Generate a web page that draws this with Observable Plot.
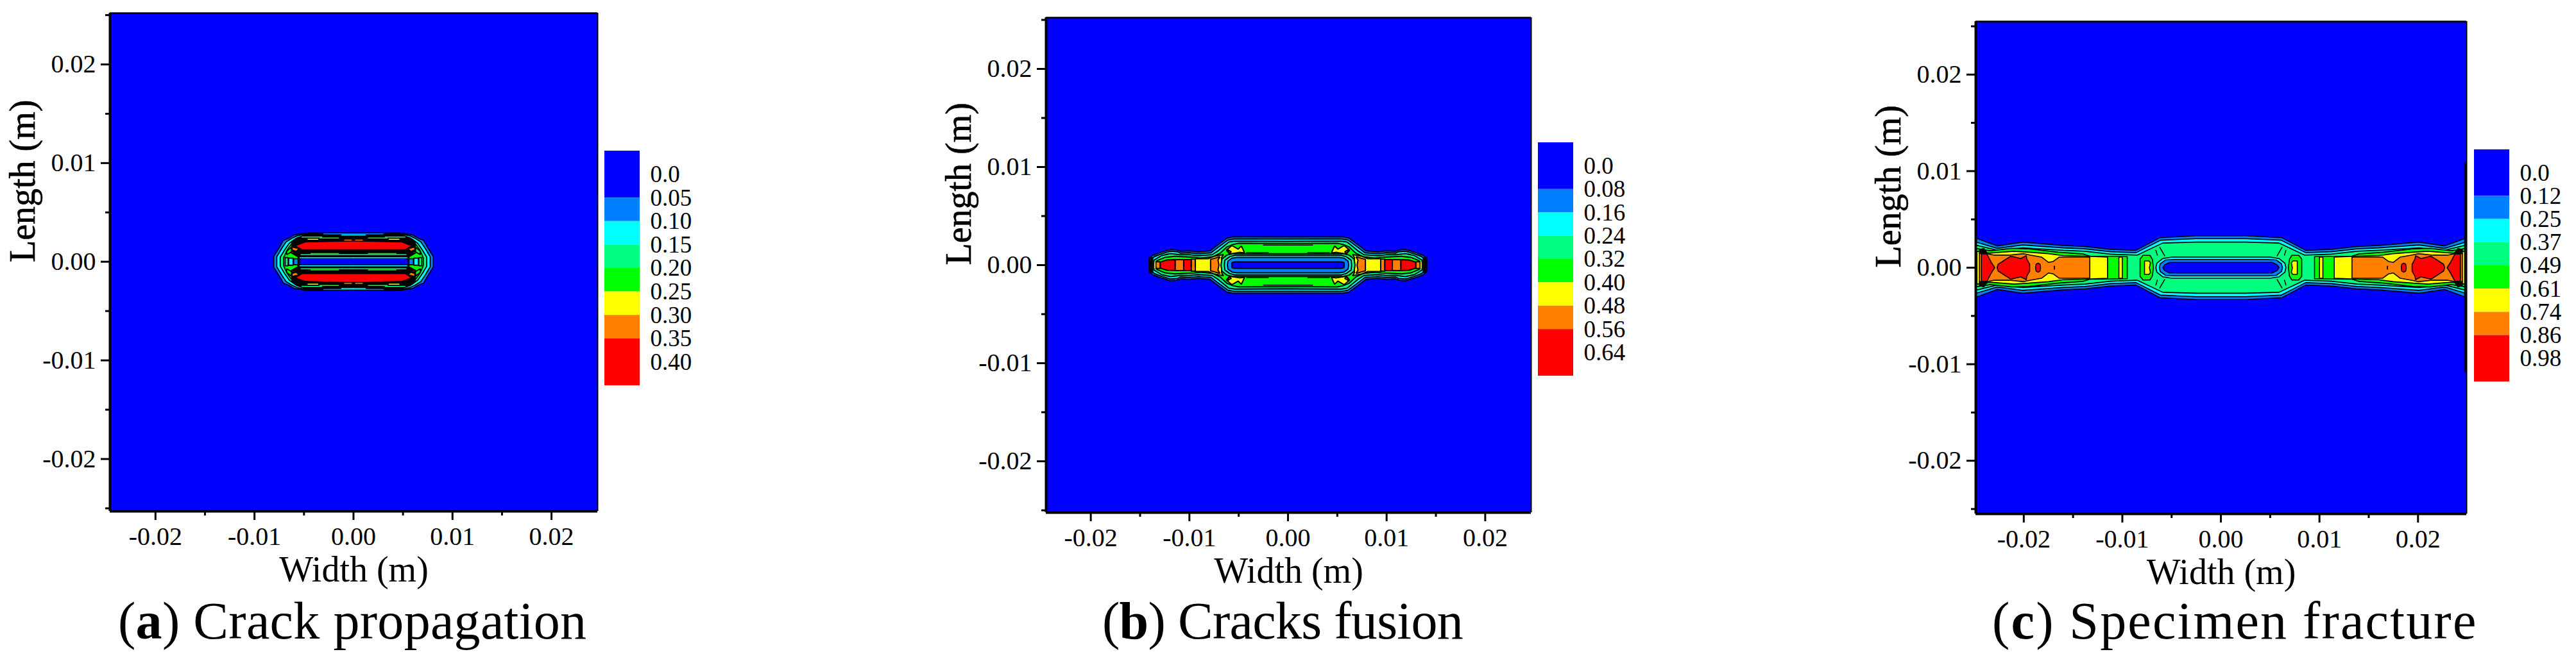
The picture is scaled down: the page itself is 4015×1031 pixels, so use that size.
<!DOCTYPE html>
<html><head><meta charset="utf-8">
<script src="https://cdn.jsdelivr.net/npm/d3@7"></script>
<script src="https://cdn.jsdelivr.net/npm/@observablehq/plot@0.6"></script>
<style>
html,body{margin:0;padding:0;background:#fff;width:4015px;height:1031px;overflow:hidden}
#page{position:relative;width:4015px;height:1031px;font-family:"Liberation Serif",serif;color:#000}
#page svg{position:absolute;overflow:visible;background:transparent}
.cap{position:absolute;top:928px;font-size:82px;line-height:1;white-space:nowrap}
</style></head><body><div id="page"></div>
<script>
// ---------- colour levels and legends ----------
const levelColors = ["#0000ff","#0080ff","#00ffff","#00ff80","#00ff00","#ffff00","#ff8000","#ff0000"];
const [BLU,AZU,CYA,SPR,GRN,YEL,ORA,RED] = levelColors;
const BLK = "#000000";
const legendEdges = [-1,1,2,3,4,5,6,7,9];
const legendA = ["0.0","0.05","0.10","0.15","0.20","0.25","0.30","0.35","0.40"];
const legendB = ["0.0","0.08","0.16","0.24","0.32","0.40","0.48","0.56","0.64"];
const legendC = ["0.0","0.12","0.25","0.37","0.49","0.61","0.74","0.86","0.98"];
const majorTicks = [-0.02,-0.01,0,0.01,0.02];
const minorTicksX = [-0.015,-0.005,0.005,0.015];
const minorTicksY = [-0.025,-0.015,-0.005,0.005,0.015,0.025];

// ---------- contour outlines, millimetres ----------
// kinds: ring = crosses both axes (one quadrant given); bandx = sits on y=0, one half given,
// repeated left and right; band = sits on x=0, repeated above and below; patch = four copies.
const contoursA = [
 ["ring",AZU,[[8.06,0],[8.06,.54],[7.52,1.4],[7.09,2.16],[6.55,2.38],[6.0,2.7],[4.71,2.92],[0,2.92]]],
 ["ring",CYA,[[7.75,0],[7.75,.5],[7.25,1.35],[6.8,2.02],[6.25,2.36],[5.7,2.62],[4.6,2.86],[0,2.86]]],
 ["ring",SPR,[[7.4,0],[7.4,.45],[6.95,1.2],[6.5,1.85],[5.9,2.3],[4.5,2.8],[0,2.8]]],
 ["ring",GRN,[[7.05,0],[7.05,.4],[6.75,1.1],[6.3,1.75],[5.7,2.25],[4.5,2.78],[0,2.78]]],
 ["ring",BLK,[[5.6,0],[5.6,.5],[6.2,.85],[6.25,1.55],[6.2,2.0],[5.7,2.42],[4.7,2.78],[0,2.78]]],
 ["bandx",SPR,[[6.6,0],[6.6,.42],[6.9,.42],[6.9,0]]],
 ["bandx",CYA,[[6.1,0],[6.1,.36],[6.55,.36],[6.55,0]]],
 ["bandx",AZU,[[5.6,0],[5.6,.3],[6.05,.3],[6.05,0]]],
 ["patch",GRN,[[6.25,1.0],[6.3,1.45],[6.75,1.05],[6.75,.72]]],
 ["patch",ORA,[[5.5,1.32],[6.2,1.5],[6.2,1.2],[5.8,1.05]]],
 ["patch",YEL,[[5.9,1.08],[6.3,.98],[6.25,.86],[5.9,.95]]],
 ["band",RED,[[0,2.1],[.7,2.1],[4.9,2.0],[5.9,1.62],[5.2,1.2],[0,1.2]]],
 ["ring",BLU,[[5.5,0],[5.5,.2],[5.3,.33],[0,.33]]]
];
const linesA = [
 [SPR,[[0,.71],[5.3,.71]]],[CYA,[[0,.4],[5.4,.4]]],[GRN,[[1.5,.83],[4.3,.83]]],
 [AZU,[[0,2.82],[3.0,2.82]]],[CYA,[[0,2.72],[1.2,2.72]]],[GRN,[[1.5,2.4],[3.4,2.4]]],
 [YEL,[[3.6,2.28],[4.6,2.28]]],[SPR,[[3.2,2.5],[5.2,2.5]]],[ORA,[[.2,2.2],[.9,2.2]]]
];
const contoursB = [
 ["ring",AZU,[[14.05,0],[14.05,.7],[13.7,1.0],[12.9,1.3],[11.9,1.6],[11.3,1.55],[10.9,1.4],[10.0,1.45],[9.1,1.35],[7.9,1.45],[7.4,1.85],[6.2,2.75],[5.6,2.88],[0,2.88]]],
 ["ring",CYA,[[13.9,0],[13.9,.6],[13.5,.88],[12.8,1.15],[11.9,1.42],[11.2,1.35],[10.9,1.22],[10.0,1.26],[9.1,1.16],[7.8,1.26],[7.3,1.65],[6.1,2.55],[5.5,2.66],[0,2.66]]],
 ["ring",SPR,[[13.6,0],[13.6,.5],[12.8,.98],[11.9,1.18],[11.0,1.06],[10,1.06],[9.1,.96],[7.7,1.06],[7.1,1.45],[6.0,2.35],[5.4,2.45],[0,2.42]]],
 ["ring",GRN,[[13.3,0],[13.3,.45],[12.5,.78],[11.5,.9],[10.5,.85],[9.5,.8],[8.9,.72],[7.6,.85],[6.9,1.2],[6.2,1.85],[5.6,2.1],[5,2.22],[0,2.2]]],
 ["bandx",YEL,[[6.65,0],[6.75,.75],[6.55,1.08],[7.5,.9],[8.1,.65],[9.4,.65],[9.4,0]]],
 ["bandx",ORA,[[7.0,0],[7.1,.5],[6.9,.85],[7.85,.58],[7.85,0]]],
 ["bandx",ORA,[[9.4,0],[9.4,.62],[9.82,.62],[9.82,0]]],
 ["bandx",RED,[[9.82,0],[9.82,.56],[10.58,.56],[10.58,0]]],
 ["bandx",ORA,[[10.58,0],[10.58,.56],[11.45,.56],[11.45,0]]],
 ["bandx",RED,[[11.45,0],[11.45,.55],[12.3,.52],[12.97,.3],[12.97,0]]],
 ["bandx",ORA,[[12.97,0],[12.97,.34],[13.4,.34],[13.4,0]]],
 ["bandx",BLK,[[13.72,0],[13.72,.75],[14.05,.75],[14.05,0]]],
 ["patch",YEL,[[4.4,1.24],[4.73,1.95],[5.05,1.63],[5.7,2.0],[6.25,1.52],[5.92,1.13],[4.94,1.3]]],
 ["patch",ORA,[[5.75,1.35],[6.2,1.62],[5.95,1.2]]],
 ["ring",SPR,[[6.8,0],[6.7,.62],[6.2,1.02],[5.6,1.16],[0,1.16]]],
 ["ring",CYA,[[6.45,0],[6.4,.5],[5.9,.86],[5.4,1.0],[0,1.0]]],
 ["ring",AZU,[[6.15,0],[6.1,.4],[5.7,.7],[5.2,.78],[0,.78]]],
 ["ring",BLU,[[5.7,0],[5.7,.25],[5.4,.33],[0,.33]]]
];
const linesB = [
 [BLK,[[0,2.05],[2.5,2.05]]],[BLK,[[2.0,1.28],[4.2,1.28]]],[YEL,[[13.5,0],[13.5,.3]]]
];
const contoursC = [
 ["ring",AZU,[[25.2,0],[25.2,3.1],[24.7,3.0],[22.7,2.25],[20.1,2.65],[16,2.3],[13.8,2.2],[11.2,1.9],[8.6,1.8],[6.2,3.1],[2.5,3.3],[0,3.3]]],
 ["ring",CYA,[[25.2,0],[25.2,2.7],[24.7,2.6],[22.7,2.0],[20.1,2.35],[16,2.05],[13.8,1.95],[11.2,1.65],[8.6,1.55],[6.1,2.85],[2.5,3.0],[0,3.0]]],
 ["ring",SPR,[[25.2,0],[25.2,2.4],[24.7,2.3],[22.7,1.8],[20.1,2.05],[16,1.8],[13.8,1.7],[11.2,1.4],[8.5,1.3],[5.9,2.55],[2.5,2.65],[0,2.65]]],
 ["bandx",GRN,[[9.5,0],[9.5,1.15],[13.3,1.2],[14,1.42],[16.5,1.6],[19.5,1.95],[21.2,2.0],[23.4,1.75],[25.2,2.05],[25.2,0]]],
 ["bandx",YEL,[[10,0],[10,1.1],[10.35,1.1],[10.35,0]]],
 ["bandx",YEL,[[11.5,0],[11.5,1.1],[14,1.2],[16,1.25],[17.5,1.45],[19.5,1.6],[21,1.7],[23.5,1.5],[24.75,1.7],[24.75,0]]],
 ["bandx",ORA,[[13.3,0],[13.3,1.1],[16.4,1.1],[17.0,.65],[17.5,.55],[18.2,1.1],[19.3,1.3],[20.0,1.45],[21.5,1.3],[23,1.3],[23.7,1.45],[24.5,1.5],[24.5,0]]],
 ["bandx",RED,[[18.3,0],[18.35,.35],[18.55,.47],[18.75,.35],[18.8,0]]],
 ["bandx",RED,[[19.4,0],[19.4,.35],[19.7,.9],[19.75,1.25],[20.3,.95],[21.3,1.2],[22.0,.75],[22.6,.35],[22.7,0]]],
 ["bandx",RED,[[22.95,0],[23.3,.55],[23.75,1.42],[24.3,1.42],[24.3,0]]],
 ["patch",BLK,[[23.7,1.5],[24.05,2.0],[24.5,1.85],[24.5,1.45]]],
 ["bandx",GRN,[[6.85,0],[6.95,.85],[7.2,1.28],[7.9,1.28],[8.2,.9],[8.2,0]]],
 ["bandx",YEL,[[7.25,0],[7.15,.5],[7.3,.7],[7.75,.7],[7.75,0]]],
 ["ring",CYA,[[6.6,0],[6.5,.45],[5.9,.95],[5,1.1],[0,1.1]]],
 ["ring",AZU,[[6.25,0],[6.15,.4],[5.6,.8],[4.7,.85],[0,.85]]],
 ["ring",BLU,[[5.9,0],[5.7,.3],[5.2,.55],[0,.55]]]
];
const linesC = [
 [BLK,[[16.9,-.15],[16.9,.15]]],[BLK,[[5.7,1.22],[6.2,2.1]]],[BLK,[[6.45,1.3],[6.6,1.8]]]
];

// ---------- mirror the outlines (the picture is symmetric about both axes) ----------
const flip = (pts, sx, sy) => pts.map(([x,y]) => [sx*x, sy*y]);
function expand([kind, color, q]) {
  const rev = a => a.slice().reverse();
  let polys;
  if (kind === "ring") polys = [[...q, ...rev(flip(q,-1,1)), ...flip(q,-1,-1), ...rev(flip(q,1,-1))]];
  else if (kind === "bandx") polys = [1,-1].map(s => [...flip(q,s,1), ...rev(flip(q,s,-1))]);
  else if (kind === "band") polys = [1,-1].map(s => [...flip(q,1,s), ...rev(flip(q,-1,s))]);
  else polys = [[1,1],[-1,1],[-1,-1],[1,-1]].map(([a,b]) => flip(q,a,b));
  return polys.map(p => ({color, pts: p.map(([x,y]) => [x/1000, y/1000])}));
}

const font = '"Liberation Serif", serif';
const page = document.getElementById("page");
function place(svg, left, top) { svg.style.left = left+"px"; svg.style.top = top+"px"; page.appendChild(svg); }

function panel(c) {
  const svgL = c.L - 190, svgW = c.R - svgL + 8, svgH = 885;
  const polys = c.contours.flatMap(expand);
  const outs = c.lines.flatMap(([col,p]) => [[1,1],[-1,1],[-1,-1],[1,-1]].map(([a,b]) => ({col, pts: flip(p,a,b).map(([x,y])=>[x/1000,y/1000])})));
  const fmt = d => d.toFixed(2);
  const marks = [
    Plot.frame({fill:"#0000ff", stroke:"none"}),
    ...polys.map(p => Plot.line(p.pts, {fill:p.color, stroke:"#000", strokeWidth:c.sw, curve:"linear-closed", clip:"frame", strokeLinejoin:"miter"})),
    ...outs.map(o => Plot.line(o.pts, {stroke:o.col, strokeWidth:1.5, clip:"frame"})),
    ...(c.edge ? [Plot.ruleX([c.edge[0]], {y1:-c.edge[1], y2:c.edge[1], stroke:"#000", strokeWidth:3})] : []),
    Plot.ruleX([c.xd[1]], {stroke:"#000", strokeWidth:2}),
    Plot.ruleY([c.yd[1]], {stroke:"#000", strokeWidth:2.5}),
    Plot.ruleX([c.xd[0]], {stroke:"#000", strokeWidth:4}),
    Plot.ruleY([c.yd[0]], {stroke:"#000", strokeWidth:4}),
    Plot.axisX({ticks:majorTicks, tickFormat:fmt, tickSize:14, tickPadding:10, strokeWidth:3, fontSize:40, label:null, fontFamily:font}),
    Plot.axisX({ticks:minorTicksX, tickFormat:null, text:null, tickSize:7, strokeWidth:3, label:null}),
    Plot.axisY({ticks:majorTicks, tickFormat:fmt, tickSize:14, tickPadding:8, strokeWidth:3, fontSize:40, label:null, fontFamily:font}),
    Plot.axisY({ticks:minorTicksY, tickFormat:null, text:null, tickSize:7, strokeWidth:3, label:null}),
    Plot.text(["Width (m)"], {frameAnchor:"bottom", dy:70, lineAnchor:"top", fontSize:56, fontFamily:font, fill:"#000"}),
    Plot.text(["Length (m)"], {frameAnchor:"left", dx:-135, rotate:-90, fontSize:56, fontFamily:font, fill:"#000", stroke:"#000", strokeWidth:0.6})
  ];
  const svg = Plot.plot({
    width:svgW, height:svgH, marginLeft:c.L-svgL, marginRight:svgW-(c.R-svgL), marginTop:c.T, marginBottom:svgH-c.B,
    x:{domain:c.xd, label:null}, y:{domain:c.yd, label:null},
    style:{background:"transparent", fontFamily:font, overflow:"visible", color:"#000"},
    marks
  });
  place(svg, svgL, 0);
}

function legend(x, y0, y1, labels) {
  const rows = levelColors.map((color,i) => ({color, top:legendEdges[i], bottom:legendEdges[i+1]}));
  const svg = Plot.plot({
    width:180, height:y1-y0, marginLeft:0, marginRight:125, marginTop:0, marginBottom:0,
    x:{domain:[0,1], axis:null}, y:{domain:[-1,9], reverse:true, axis:null},
    color:{type:"identity"},
    style:{background:"transparent", fontFamily:font, overflow:"visible"},
    marks:[
      Plot.rect(rows, {x1:()=>0, x2:()=>1, y1:"top", y2:"bottom", fill:"color"}),
      Plot.text(labels, {x:()=>1, y:(d,i)=>i, dx:16, textAnchor:"start", fontSize:37, fontFamily:font, fill:"#000"})
    ]
  });
  place(svg, x, y0);
}

panel({L:171,R:931,T:20,B:797,sw:1.8,xd:[-0.02459,0.02466],yd:[-0.02530,0.02520],contours:contoursA,lines:linesA});
panel({L:1630,R:2386,T:27,B:799,sw:2,xd:[-0.02453,0.02466],yd:[-0.02523,0.02523],contours:contoursB,lines:linesB});
panel({L:3079,R:3844,T:33,B:801,sw:1.6,xd:[-0.02487,0.02493],yd:[-0.0255,0.0255],contours:contoursC,lines:linesC,edge:[0.02478,0.01086]});
legend(942,235,601,legendA);
legend(2397,222,586,legendB);
legend(3856,233,595,legendC);

const captions = [
  {x:184,  ls:.3,  h:"(<b>a</b>) Crack propagation"},
  {x:1718, ls:-.7, h:"(<b>b</b>) Cracks fusion"},
  {x:3105, ls:2.2, h:"(<b>c</b>) Specimen fracture"}
];
for (const c of captions) {
  const d = document.createElement("div");
  d.className = "cap"; d.style.left = c.x+"px"; d.style.letterSpacing = c.ls+"px"; d.innerHTML = c.h;
  page.appendChild(d);
}
</script></body></html>
